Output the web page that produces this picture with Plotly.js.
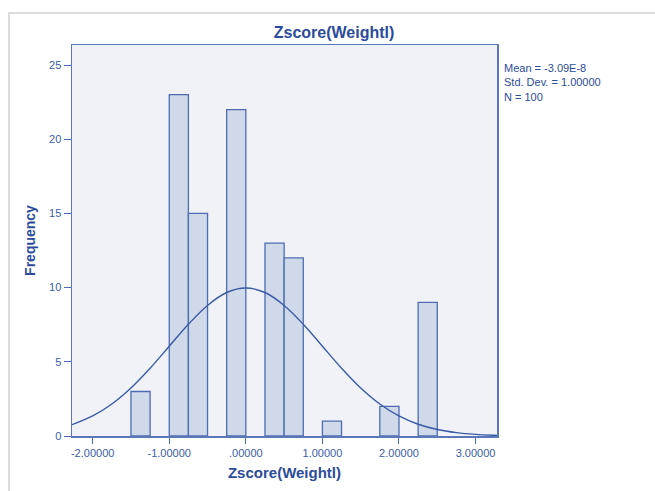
<!DOCTYPE html>
<html>
<head>
<meta charset="utf-8">
<script src="https://cdn.plot.ly/plotly-3.0.1.min.js"></script>
<style>
  html, body { margin: 0; padding: 0; background: #ffffff; }
  #frame { position: absolute; left: 8px; top: 12px; width: 660px; height: 490px;
           border-top: 2px solid #dcdcdc; border-left: 2px solid #dcdcdc; box-sizing: border-box; }
  #chart { position: absolute; left: 0; top: 0; width: 655px; height: 491px; }
</style>
</head>
<body>
<div id="frame"></div>
<div id="chart"></div>
<script>
// Histogram bins (centres of 0.25-wide bins) and frequencies
const binCenters = [-1.375, -0.875, -0.625, -0.125, 0.375, 0.625, 1.125, 1.875, 2.375];
const frequencies = [3, 23, 15, 22, 13, 12, 1, 2, 9];
const binWidth = 0.25;

// Normal curve
const curveX = [-2.27, -2.0, -1.75, -1.5, -1.25, -1.0, -0.75, -0.5, -0.25, 0.0, 0.25, 0.5, 0.75, 1.0, 1.25, 1.5, 1.75, 2.0, 2.25, 2.5, 2.75, 3.0, 3.25, 3.28];
const curveY = [0.76, 1.35, 2.16, 3.24, 4.57, 6.05, 7.53, 8.80, 9.67, 9.97, 9.67, 8.80, 7.53, 6.05, 4.57, 3.24, 2.16, 1.35, 0.79, 0.44, 0.23, 0.11, 0.05, 0.045];

// Tick labels
const xTickVals = [-2, -1, 0, 1, 2, 3];
const xTickText = ["-2.00000", "-1.00000", ".00000", "1.00000", "2.00000", "3.00000"];
const yTickVals = [0, 5, 10, 15, 20, 25];

const statsLines = ["Mean = -3.09E-8", "Std. Dev. = 1.00000", "N = 100"];

const blue = '#2b4c9b';
const tickBlue = '#3b5ca8';

const traces = [
  {
    type: 'bar',
    x: binCenters,
    y: frequencies,
    width: frequencies.map(() => binWidth),
    marker: { color: '#d0d9ea', line: { color: '#4d6cb0', width: 1.3 } },
    hoverinfo: 'x+y'
  },
  {
    type: 'scatter',
    mode: 'lines',
    x: curveX,
    y: curveY,
    line: { color: '#3a5aa6', width: 1.4, shape: 'spline' },
    hoverinfo: 'skip'
  }
];

const layout = {
  width: 655,
  height: 491,
  margin: { l: 72, r: 158, t: 45, b: 55 },
  paper_bgcolor: 'rgba(0,0,0,0)',
  plot_bgcolor: '#f0f2f8',
  showlegend: false,
  bargap: 0,
  font: { family: 'Arial, Liberation Sans, sans-serif', color: tickBlue, size: 11 },
  title: {
    text: '<b>Zscore(Weightl)</b>',
    font: { family: 'Arial, Liberation Sans, sans-serif', size: 16, color: blue },
    x: 0.51, xref: 'container', xanchor: 'center',
    y: 0.933, yref: 'container', yanchor: 'middle'
  },
  xaxis: {
    range: [-2.27, 3.28],
    tickvals: xTickVals,
    ticktext: xTickText,
    ticks: 'outside',
    ticklen: 6,
    tickcolor: '#4d6cb0',
    showgrid: false,
    zeroline: false,
    showline: true,
    mirror: true,
    linecolor: '#5a78b8',
    linewidth: 1.5,
    tickfont: { size: 11, color: tickBlue },
    title: { text: '<b>Zscore(Weightl)</b>', font: { size: 15, color: blue }, standoff: 10 }
  },
  yaxis: {
    range: [0, 26.35],
    tickvals: yTickVals,
    ticks: 'outside',
    ticklen: 7,
    tickcolor: '#4d6cb0',
    showgrid: false,
    zeroline: false,
    showline: true,
    mirror: true,
    linecolor: '#5a78b8',
    linewidth: 1.5,
    tickfont: { size: 11, color: tickBlue },
    title: { text: '<b>Frequency</b>', font: { size: 14, color: blue }, standoff: 10 }
  },
  annotations: [
    {
      xref: 'paper', yref: 'paper',
      x: 1.012, y: 0.904,
      xanchor: 'left', yanchor: 'middle',
      align: 'left',
      showarrow: false,
      text: statsLines.join('<br>'),
      font: { size: 11, color: blue }
    }
  ]
};

Plotly.newPlot('chart', traces, layout, { displayModeBar: false, staticPlot: true });
</script>
</body>
</html>
